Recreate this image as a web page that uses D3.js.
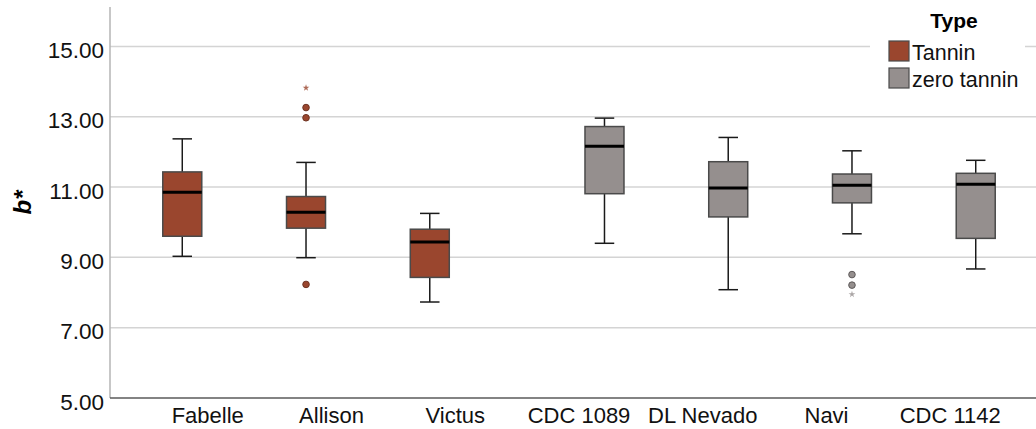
<!DOCTYPE html>
<html>
<head>
<meta charset="utf-8">
<script src="https://cdn.jsdelivr.net/npm/d3@7"></script>
<style>
  body { margin: 0; background: #fff; }
  svg { font-family: "Liberation Sans", Arial, sans-serif; display: block; }
</style>
</head>
<body>
<svg id="chart" width="1036" height="429"></svg>
<script>
// varieties on x axis, with their type
const categories = ["Fabelle", "Allison", "Victus", "CDC 1089", "DL Nevado", "Navi", "CDC 1142"];
const types = ["Tannin", "zero tannin"];
const catType = ["Tannin", "Tannin", "Tannin", "zero tannin", "zero tannin", "zero tannin", "zero tannin"];

// box stats
const whiskerLow  = [9.03, 8.99, 7.73, 9.40, 8.08, 9.67, 8.67];
const q1          = [9.60, 9.83, 8.43, 10.81, 10.15, 10.55, 9.54];
const median      = [10.85, 10.28, 9.44, 12.16, 10.97, 11.05, 11.08];
const q3          = [11.43, 10.73, 9.80, 12.72, 11.72, 11.37, 11.39];
const whiskerHigh = [12.37, 11.70, 10.25, 12.96, 12.41, 12.03, 11.76];
const outliers    = [[], [8.23, 12.97, 13.26], [], [], [], [8.21, 8.51], []];
const extremes    = [[], [13.82], [], [], [], [7.95], []];

const yTicks = [5, 7, 9, 11, 13, 15];

const colors = { "Tannin": "#9a462e", "zero tannin": "#958f8e" };
const darker = { "Tannin": "#6e3322", "zero tannin": "#5e5a5a" };

const width = 1036, height = 429;
const margin = { top: 7, left: 110, bottom: 31 };

const svg = d3.select("#chart");

const y = d3.scaleLinear()
    .domain([5, 16.12])
    .range([height - margin.bottom, margin.top]);

// plot runs a little past the right edge of the picture
const x = d3.scaleBand()
    .domain(categories)
    .range([margin.left, 1048])
    .paddingInner(0)
    .paddingOuter(0.29);

const xSub = d3.scalePoint()
    .domain(types)
    .range([0, x.bandwidth()])
    .padding(0.714);

const boxW = 39;

// gridlines
svg.append("g")
    .selectAll("line")
    .data(yTicks.slice(1))
    .join("line")
    .attr("x1", margin.left)
    .attr("x2", width)
    .attr("y1", d => y(d))
    .attr("y2", d => y(d))
    .attr("stroke", "#d4d4d4")
    .attr("stroke-width", 1.5);

// y axis
const yAxis = svg.append("g")
    .attr("transform", `translate(${margin.left},0)`)
    .call(d3.axisLeft(y).tickValues(yTicks).tickFormat(d3.format(".2f")).tickSize(0).tickPadding(6));
yAxis.select(".domain").remove();
yAxis.selectAll("text")
    .attr("font-size", 22.5)
    .attr("fill", "#111")
    .attr("dy", "0.5em");
svg.append("line")
    .attr("x1", margin.left).attr("x2", margin.left)
    .attr("y1", margin.top).attr("y2", y(5))
    .attr("stroke", "#b5b5b5")
    .attr("stroke-width", 1.5);

// x axis
const xAxis = svg.append("g")
    .attr("transform", `translate(0,${y(5)})`)
    .call(d3.axisBottom(x).tickSize(0).tickPadding(9));
xAxis.select(".domain").remove();
xAxis.selectAll("text")
    .attr("font-size", 22)
    .attr("fill", "#111");
svg.append("line")
    .attr("x1", margin.left).attr("x2", width)
    .attr("y1", y(5)).attr("y2", y(5))
    .attr("stroke", "#5a5a5a")
    .attr("stroke-width", 1.5);

// y title
svg.append("text")
    .attr("transform", `translate(31,${(margin.top + y(5)) / 2}) rotate(-90)`)
    .attr("text-anchor", "middle")
    .attr("font-size", 24)
    .attr("font-weight", "bold")
    .attr("font-style", "italic")
    .text("b*");

const boxData = categories.map((c, i) => ({
    cat: c,
    type: catType[i],
    lo: whiskerLow[i], q1: q1[i], med: median[i], q3: q3[i], hi: whiskerHigh[i],
    out: outliers[i], ext: extremes[i],
    cx: x(c) + xSub(catType[i])
}));

const boxes = svg.append("g")
    .selectAll("g")
    .data(boxData)
    .join("g");

// whiskers
boxes.append("line")
    .attr("x1", d => d.cx).attr("x2", d => d.cx)
    .attr("y1", d => y(d.lo)).attr("y2", d => y(d.hi))
    .attr("stroke", "#1a1a1a").attr("stroke-width", 1.5);
boxes.selectAll(".cap")
    .data(d => [d.lo, d.hi].map(v => ({ v, cx: d.cx })))
    .join("line")
    .attr("class", "cap")
    .attr("x1", d => d.cx - boxW / 4).attr("x2", d => d.cx + boxW / 4)
    .attr("y1", d => y(d.v)).attr("y2", d => y(d.v))
    .attr("stroke", "#1a1a1a").attr("stroke-width", 1.5);

// boxes
boxes.append("rect")
    .attr("x", d => d.cx - boxW / 2)
    .attr("width", boxW)
    .attr("y", d => y(d.q3))
    .attr("height", d => y(d.q1) - y(d.q3))
    .attr("fill", d => colors[d.type])
    .attr("stroke", "#4a4a4a")
    .attr("stroke-width", 1.5);

// medians
boxes.append("line")
    .attr("x1", d => d.cx - boxW / 2).attr("x2", d => d.cx + boxW / 2)
    .attr("y1", d => y(d.med)).attr("y2", d => y(d.med))
    .attr("stroke", "#000").attr("stroke-width", 3);

// outliers
boxes.selectAll(".out")
    .data(d => d.out.map(v => ({ v, cx: d.cx, type: d.type })))
    .join("circle")
    .attr("class", "out")
    .attr("cx", d => d.cx)
    .attr("cy", d => y(d.v))
    .attr("r", 3.3)
    .attr("fill", d => colors[d.type])
    .attr("stroke", d => darker[d.type])
    .attr("stroke-width", 1);

// extremes (stars)
const star = d3.symbol().type(d3.symbolStar).size(14);
boxes.selectAll(".ext")
    .data(d => d.ext.map(v => ({ v, cx: d.cx, type: d.type })))
    .join("path")
    .attr("class", "ext")
    .attr("d", star)
    .attr("transform", d => `translate(${d.cx},${y(d.v)})`)
    .attr("fill", d => colors[d.type])
    .attr("opacity", 0.8);

// legend
const legend = svg.append("g").attr("transform", "translate(870,0)");
legend.append("rect")
    .attr("x", 0).attr("y", 0).attr("width", 155).attr("height", 95)
    .attr("fill", "#fff");
legend.append("text")
    .attr("x", 84).attr("y", 28)
    .attr("text-anchor", "middle")
    .attr("font-size", 21)
    .attr("font-weight", "bold")
    .text("Type");
const items = legend.selectAll(".item")
    .data(types)
    .join("g")
    .attr("class", "item")
    .attr("transform", (d, i) => `translate(19,${41 + i * 27})`);
items.append("rect")
    .attr("width", 20).attr("height", 20)
    .attr("fill", d => colors[d])
    .attr("stroke", "#4a4a4a")
    .attr("stroke-width", 1.2);
items.append("text")
    .attr("x", 23).attr("y", 19)
    .attr("font-size", 21.5)
    .attr("fill", "#111")
    .text(d => d);
</script>
</body>
</html>
